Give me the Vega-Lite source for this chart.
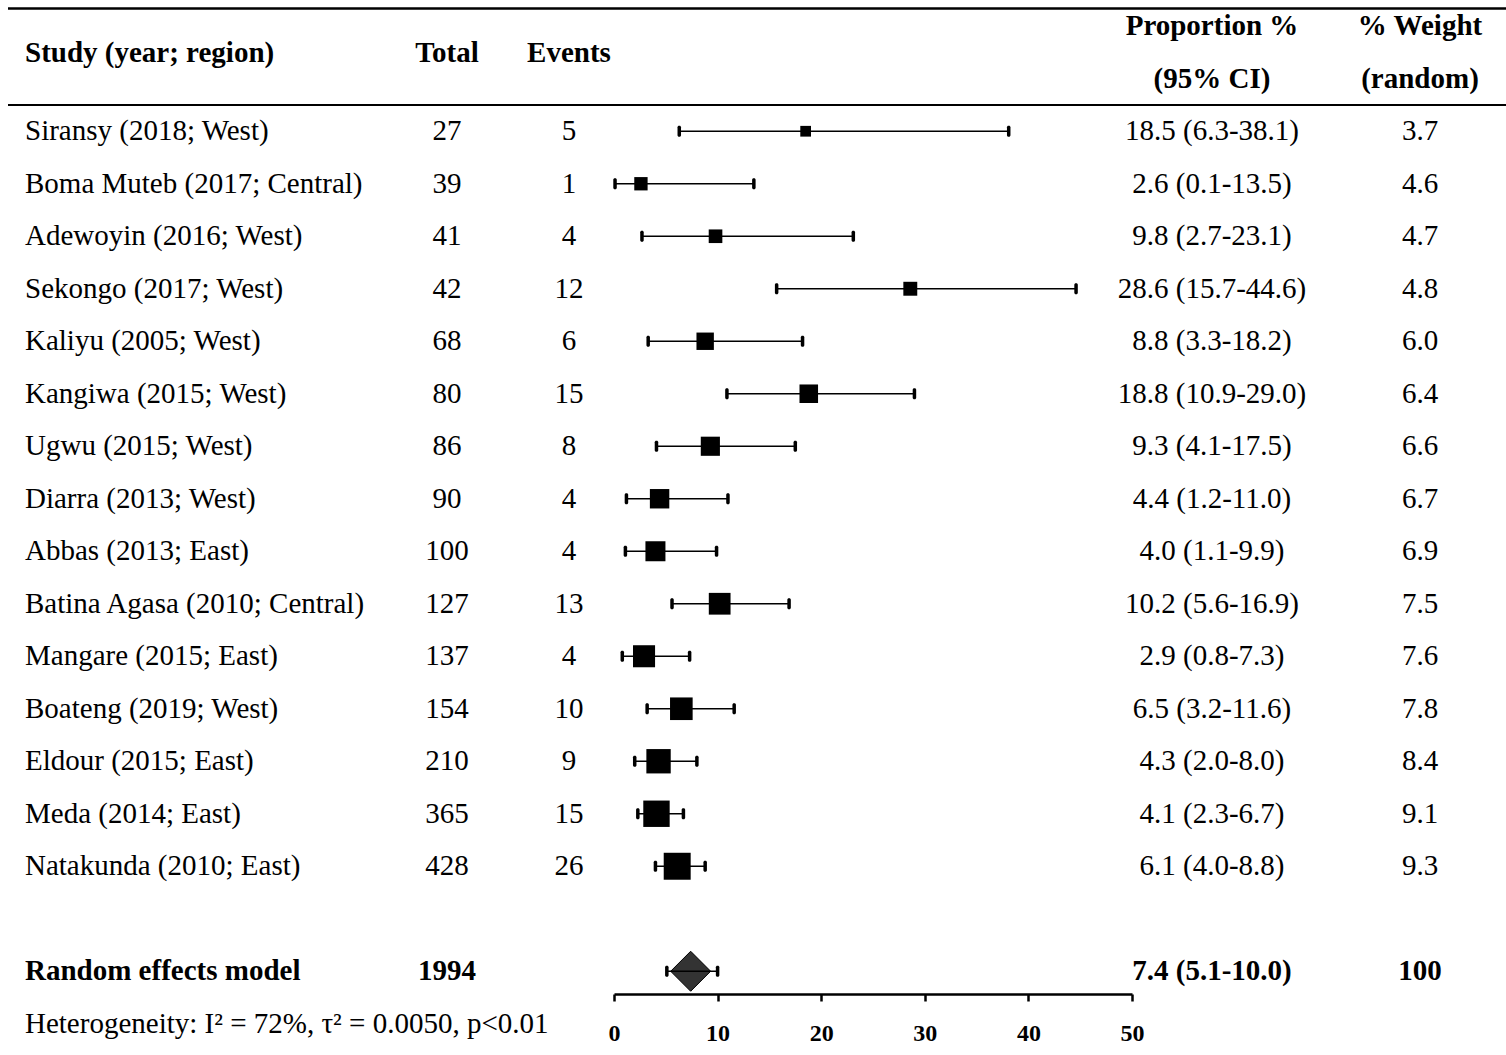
{
  "$schema": "https://vega.github.io/schema/vega-lite/v6.json",
  "background": "white",
  "padding": {"left": 6, "top": 0, "right": 0, "bottom": 0},
  "spacing": 0,
  "bounds": "flush",
  "config": {
    "view": {"stroke": null},
    "text": {"font": "Liberation Serif", "fontSize": 29, "color": "black"},
    "concat": {"spacing": 0}
  },
  "datasets": {
    "rows": [
      {"kind": "study", "study": "Siransy (2018; West)", "total": 27, "events": 5, "prop": 18.5, "lo": 6.3, "hi": 38.1, "ci": "18.5 (6.3-38.1)", "weight": 3.7},
      {"kind": "study", "study": "Boma Muteb (2017; Central)", "total": 39, "events": 1, "prop": 2.6, "lo": 0.1, "hi": 13.5, "ci": "2.6 (0.1-13.5)", "weight": 4.6},
      {"kind": "study", "study": "Adewoyin (2016; West)", "total": 41, "events": 4, "prop": 9.8, "lo": 2.7, "hi": 23.1, "ci": "9.8 (2.7-23.1)", "weight": 4.7},
      {"kind": "study", "study": "Sekongo (2017; West)", "total": 42, "events": 12, "prop": 28.6, "lo": 15.7, "hi": 44.6, "ci": "28.6 (15.7-44.6)", "weight": 4.8},
      {"kind": "study", "study": "Kaliyu (2005; West)", "total": 68, "events": 6, "prop": 8.8, "lo": 3.3, "hi": 18.2, "ci": "8.8 (3.3-18.2)", "weight": 6.0},
      {"kind": "study", "study": "Kangiwa (2015; West)", "total": 80, "events": 15, "prop": 18.8, "lo": 10.9, "hi": 29.0, "ci": "18.8 (10.9-29.0)", "weight": 6.4},
      {"kind": "study", "study": "Ugwu (2015; West)", "total": 86, "events": 8, "prop": 9.3, "lo": 4.1, "hi": 17.5, "ci": "9.3 (4.1-17.5)", "weight": 6.6},
      {"kind": "study", "study": "Diarra (2013; West)", "total": 90, "events": 4, "prop": 4.4, "lo": 1.2, "hi": 11.0, "ci": "4.4 (1.2-11.0)", "weight": 6.7},
      {"kind": "study", "study": "Abbas (2013; East)", "total": 100, "events": 4, "prop": 4.0, "lo": 1.1, "hi": 9.9, "ci": "4.0 (1.1-9.9)", "weight": 6.9},
      {"kind": "study", "study": "Batina Agasa (2010; Central)", "total": 127, "events": 13, "prop": 10.2, "lo": 5.6, "hi": 16.9, "ci": "10.2 (5.6-16.9)", "weight": 7.5},
      {"kind": "study", "study": "Mangare (2015; East)", "total": 137, "events": 4, "prop": 2.9, "lo": 0.8, "hi": 7.3, "ci": "2.9 (0.8-7.3)", "weight": 7.6},
      {"kind": "study", "study": "Boateng (2019; West)", "total": 154, "events": 10, "prop": 6.5, "lo": 3.2, "hi": 11.6, "ci": "6.5 (3.2-11.6)", "weight": 7.8},
      {"kind": "study", "study": "Eldour (2015; East)", "total": 210, "events": 9, "prop": 4.3, "lo": 2.0, "hi": 8.0, "ci": "4.3 (2.0-8.0)", "weight": 8.4},
      {"kind": "study", "study": "Meda (2014; East)", "total": 365, "events": 15, "prop": 4.1, "lo": 2.3, "hi": 6.7, "ci": "4.1 (2.3-6.7)", "weight": 9.1},
      {"kind": "study", "study": "Natakunda (2010; East)", "total": 428, "events": 26, "prop": 6.1, "lo": 4.0, "hi": 8.8, "ci": "6.1 (4.0-8.8)", "weight": 9.3},
      {"kind": "pooled", "study": "Random effects model", "total": 1994, "prop": 7.4, "lo": 5.1, "hi": 10.0, "ci": "7.4 (5.1-10.0)", "weight": 100}
    ],
    "header": [
      {"col": "study", "row": "h1", "t": "Study (year; region)"},
      {"col": "total", "row": "h1", "t": "Total"},
      {"col": "events", "row": "h1", "t": "Events"},
      {"col": "ci", "row": "h1", "t": "Proportion %"},
      {"col": "ci", "row": "h2", "t": "(95% CI)"},
      {"col": "wt", "row": "h1", "t": "% Weight"},
      {"col": "wt", "row": "h2", "t": "(random)"}
    ],
    "note": [
      {"row": "het", "t": "Heterogeneity: I² = 72%, τ² = 0.0050, p<0.01"}
    ]
  },
  "hconcat": [
    {
      "width": 394, "height": 1050,
      "layer": [
        {"data": {"values": [{}]}, "mark": {"type": "rule", "strokeWidth": 2.5, "color": "black"},
         "encoding": {"y": {"datum": "h1", "type": "nominal", "bandPosition": 0.16, "axis": null,
           "scale": {"type": "band", "paddingInner": 0, "paddingOuter": 0, "domain": ["h1", "h2", "Siransy (2018; West)", "Boma Muteb (2017; Central)", "Adewoyin (2016; West)", "Sekongo (2017; West)", "Kaliyu (2005; West)", "Kangiwa (2015; West)", "Ugwu (2015; West)", "Diarra (2013; West)", "Abbas (2013; East)", "Batina Agasa (2010; Central)", "Mangare (2015; East)", "Boateng (2019; West)", "Eldour (2015; East)", "Meda (2014; East)", "Natakunda (2010; East)", "gap", "Random effects model", "het"]}}}},
        {"data": {"values": [{}]}, "mark": {"type": "rule", "strokeWidth": 2, "color": "black"},
         "encoding": {"y": {"datum": "h2", "type": "nominal", "bandPosition": 1, "axis": null}}},
        {"data": {"name": "header"}, "transform": [{"filter": "datum.col == 'study'"}],
         "mark": {"type": "text", "align": "left", "fontWeight": "bold"},
         "encoding": {"x": {"value": 17}, "y": {"field": "row", "type": "nominal", "bandPosition": 1, "axis": null}, "text": {"field": "t"}}},
        {"data": {"name": "rows"}, "transform": [{"filter": "datum.kind == 'study'"}],
         "mark": {"type": "text", "align": "left"},
         "encoding": {"x": {"value": 17}, "y": {"field": "study", "type": "nominal", "axis": null}, "text": {"field": "study"}}},
        {"data": {"name": "rows"}, "transform": [{"filter": "datum.kind == 'pooled'"}],
         "mark": {"type": "text", "align": "left", "fontWeight": "bold"},
         "encoding": {"x": {"value": 17}, "y": {"field": "study", "type": "nominal", "axis": null}, "text": {"field": "study"}}},
        {"data": {"name": "note"},
         "mark": {"type": "text", "align": "left"},
         "encoding": {"x": {"value": 17}, "y": {"field": "row", "type": "nominal", "axis": null}, "text": {"field": "t"}}}
      ]
    },
    {
      "width": 90, "height": 1050,
      "layer": [
        {"data": {"values": [{}]}, "mark": {"type": "rule", "strokeWidth": 2.5, "color": "black"},
         "encoding": {"y": {"datum": "h1", "type": "nominal", "bandPosition": 0.16, "axis": null,
           "scale": {"type": "band", "paddingInner": 0, "paddingOuter": 0, "domain": ["h1", "h2", "Siransy (2018; West)", "Boma Muteb (2017; Central)", "Adewoyin (2016; West)", "Sekongo (2017; West)", "Kaliyu (2005; West)", "Kangiwa (2015; West)", "Ugwu (2015; West)", "Diarra (2013; West)", "Abbas (2013; East)", "Batina Agasa (2010; Central)", "Mangare (2015; East)", "Boateng (2019; West)", "Eldour (2015; East)", "Meda (2014; East)", "Natakunda (2010; East)", "gap", "Random effects model", "het"]}}}},
        {"data": {"values": [{}]}, "mark": {"type": "rule", "strokeWidth": 2, "color": "black"},
         "encoding": {"y": {"datum": "h2", "type": "nominal", "bandPosition": 1, "axis": null}}},
        {"data": {"name": "header"}, "transform": [{"filter": "datum.col == 'total'"}],
         "mark": {"type": "text", "align": "center", "fontWeight": "bold"},
         "encoding": {"y": {"field": "row", "type": "nominal", "bandPosition": 1, "axis": null}, "text": {"field": "t"}}},
        {"data": {"name": "rows"}, "transform": [{"filter": "datum.kind == 'study'"}],
         "mark": {"type": "text", "align": "center"},
         "encoding": {"y": {"field": "study", "type": "nominal", "axis": null}, "text": {"field": "total"}}},
        {"data": {"name": "rows"}, "transform": [{"filter": "datum.kind == 'pooled'"}],
         "mark": {"type": "text", "align": "center", "fontWeight": "bold"},
         "encoding": {"y": {"field": "study", "type": "nominal", "axis": null}, "text": {"field": "total"}}}
      ]
    },
    {
      "width": 122, "height": 1050,
      "layer": [
        {"data": {"values": [{}]}, "mark": {"type": "rule", "strokeWidth": 2.5, "color": "black"},
         "encoding": {"y": {"datum": "h1", "type": "nominal", "bandPosition": 0.16, "axis": null,
           "scale": {"type": "band", "paddingInner": 0, "paddingOuter": 0, "domain": ["h1", "h2", "Siransy (2018; West)", "Boma Muteb (2017; Central)", "Adewoyin (2016; West)", "Sekongo (2017; West)", "Kaliyu (2005; West)", "Kangiwa (2015; West)", "Ugwu (2015; West)", "Diarra (2013; West)", "Abbas (2013; East)", "Batina Agasa (2010; Central)", "Mangare (2015; East)", "Boateng (2019; West)", "Eldour (2015; East)", "Meda (2014; East)", "Natakunda (2010; East)", "gap", "Random effects model", "het"]}}}},
        {"data": {"values": [{}]}, "mark": {"type": "rule", "strokeWidth": 2, "color": "black"},
         "encoding": {"y": {"datum": "h2", "type": "nominal", "bandPosition": 1, "axis": null}}},
        {"data": {"name": "header"}, "transform": [{"filter": "datum.col == 'events'"}],
         "mark": {"type": "text", "align": "center", "fontWeight": "bold", "dx": 16},
         "encoding": {"y": {"field": "row", "type": "nominal", "bandPosition": 1, "axis": null}, "text": {"field": "t"}}},
        {"data": {"name": "rows"}, "transform": [{"filter": "datum.kind == 'study'"}],
         "mark": {"type": "text", "align": "center", "dx": 16},
         "encoding": {"y": {"field": "study", "type": "nominal", "axis": null}, "text": {"field": "events"}}}
      ]
    },
    {
      "width": 518, "height": 1050,
      "layer": [
        {"data": {"values": [{}]}, "mark": {"type": "rule", "strokeWidth": 2.5, "color": "black"},
         "encoding": {"y": {"datum": "h1", "type": "nominal", "bandPosition": 0.16, "axis": null,
           "scale": {"type": "band", "paddingInner": 0, "paddingOuter": 0, "domain": ["h1", "h2", "Siransy (2018; West)", "Boma Muteb (2017; Central)", "Adewoyin (2016; West)", "Sekongo (2017; West)", "Kaliyu (2005; West)", "Kangiwa (2015; West)", "Ugwu (2015; West)", "Diarra (2013; West)", "Abbas (2013; East)", "Batina Agasa (2010; Central)", "Mangare (2015; East)", "Boateng (2019; West)", "Eldour (2015; East)", "Meda (2014; East)", "Natakunda (2010; East)", "gap", "Random effects model", "het"]}}}},
        {"data": {"values": [{}]}, "mark": {"type": "rule", "strokeWidth": 2, "color": "black"},
         "encoding": {"y": {"datum": "h2", "type": "nominal", "bandPosition": 1, "axis": null}}},
        {"data": {"name": "rows"}, "transform": [{"filter": "datum.kind == 'pooled'"}],
         "mark": {"type": "point", "shape": "diamond", "filled": true, "fill": "#333333", "stroke": "black", "strokeWidth": 1, "opacity": 1, "size": 1600},
         "encoding": {
           "x": {"field": "prop", "type": "quantitative",
             "scale": {"domain": [0, 50], "nice": false, "zero": false},
             "axis": {"orient": "bottom", "offset": -56, "values": [0, 10, 20, 30, 40, 50], "title": null, "grid": false,
               "domain": true, "domainColor": "black", "domainWidth": 2.5,
               "ticks": true, "tickColor": "black", "tickWidth": 2.5, "tickSize": 7,
               "labelFlush": false, "labelOverlap": false,
               "labelFont": "Liberation Serif", "labelFontWeight": "bold", "labelFontSize": 24, "labelColor": "black", "labelPadding": 20}},
           "y": {"field": "study", "type": "nominal", "axis": null}}},
        {"data": {"name": "rows"},
         "mark": {"type": "rule", "strokeWidth": 1.5, "color": "black"},
         "encoding": {"x": {"field": "lo", "type": "quantitative"}, "x2": {"field": "hi"}, "y": {"field": "study", "type": "nominal", "axis": null}}},
        {"data": {"name": "rows"},
         "mark": {"type": "tick", "thickness": 3.5, "size": 11, "color": "black", "opacity": 1, "cornerRadius": 1.5},
         "encoding": {"x": {"field": "lo", "type": "quantitative"}, "y": {"field": "study", "type": "nominal", "axis": null}}},
        {"data": {"name": "rows"},
         "mark": {"type": "tick", "thickness": 3.5, "size": 11, "color": "black", "opacity": 1, "cornerRadius": 1.5},
         "encoding": {"x": {"field": "hi", "type": "quantitative"}, "y": {"field": "study", "type": "nominal", "axis": null}}},
        {"data": {"name": "rows"}, "transform": [{"filter": "datum.kind == 'study'"}],
         "mark": {"type": "point", "shape": "square", "filled": true, "color": "black", "opacity": 1},
         "encoding": {
           "x": {"field": "prop", "type": "quantitative"},
           "y": {"field": "study", "type": "nominal", "axis": null},
           "size": {"field": "weight", "type": "quantitative", "scale": {"type": "pow", "exponent": 2, "domain": [0, 10], "range": [0, 841]}, "legend": null}}}
      ]
    },
    {
      "width": 160, "height": 1050,
      "layer": [
        {"data": {"values": [{}]}, "mark": {"type": "rule", "strokeWidth": 2.5, "color": "black"},
         "encoding": {"y": {"datum": "h1", "type": "nominal", "bandPosition": 0.16, "axis": null,
           "scale": {"type": "band", "paddingInner": 0, "paddingOuter": 0, "domain": ["h1", "h2", "Siransy (2018; West)", "Boma Muteb (2017; Central)", "Adewoyin (2016; West)", "Sekongo (2017; West)", "Kaliyu (2005; West)", "Kangiwa (2015; West)", "Ugwu (2015; West)", "Diarra (2013; West)", "Abbas (2013; East)", "Batina Agasa (2010; Central)", "Mangare (2015; East)", "Boateng (2019; West)", "Eldour (2015; East)", "Meda (2014; East)", "Natakunda (2010; East)", "gap", "Random effects model", "het"]}}}},
        {"data": {"values": [{}]}, "mark": {"type": "rule", "strokeWidth": 2, "color": "black"},
         "encoding": {"y": {"datum": "h2", "type": "nominal", "bandPosition": 1, "axis": null}}},
        {"data": {"name": "header"}, "transform": [{"filter": "datum.col == 'ci'"}],
         "mark": {"type": "text", "align": "center", "fontWeight": "bold"},
         "encoding": {"y": {"field": "row", "type": "nominal", "axis": null}, "text": {"field": "t"}}},
        {"data": {"name": "rows"}, "transform": [{"filter": "datum.kind == 'study'"}],
         "mark": {"type": "text", "align": "center"},
         "encoding": {"y": {"field": "study", "type": "nominal", "axis": null}, "text": {"field": "ci"}}},
        {"data": {"name": "rows"}, "transform": [{"filter": "datum.kind == 'pooled'"}],
         "mark": {"type": "text", "align": "center", "fontWeight": "bold"},
         "encoding": {"y": {"field": "study", "type": "nominal", "axis": null}, "text": {"field": "ci"}}}
      ]
    },
    {
      "width": 216, "height": 1050,
      "layer": [
        {"data": {"values": [{}]}, "mark": {"type": "rule", "strokeWidth": 2.5, "color": "black"},
         "encoding": {"y": {"datum": "h1", "type": "nominal", "bandPosition": 0.16, "axis": null,
           "scale": {"type": "band", "paddingInner": 0, "paddingOuter": 0, "domain": ["h1", "h2", "Siransy (2018; West)", "Boma Muteb (2017; Central)", "Adewoyin (2016; West)", "Sekongo (2017; West)", "Kaliyu (2005; West)", "Kangiwa (2015; West)", "Ugwu (2015; West)", "Diarra (2013; West)", "Abbas (2013; East)", "Batina Agasa (2010; Central)", "Mangare (2015; East)", "Boateng (2019; West)", "Eldour (2015; East)", "Meda (2014; East)", "Natakunda (2010; East)", "gap", "Random effects model", "het"]}}}},
        {"data": {"values": [{}]}, "mark": {"type": "rule", "strokeWidth": 2, "color": "black"},
         "encoding": {"y": {"datum": "h2", "type": "nominal", "bandPosition": 1, "axis": null}}},
        {"data": {"name": "header"}, "transform": [{"filter": "datum.col == 'wt'"}],
         "mark": {"type": "text", "align": "center", "fontWeight": "bold", "dx": 20},
         "encoding": {"y": {"field": "row", "type": "nominal", "axis": null}, "text": {"field": "t"}}},
        {"data": {"name": "rows"}, "transform": [{"filter": "datum.kind == 'study'"}],
         "mark": {"type": "text", "align": "center", "dx": 20},
         "encoding": {"y": {"field": "study", "type": "nominal", "axis": null}, "text": {"field": "weight", "format": ".1f"}}},
        {"data": {"name": "rows"}, "transform": [{"filter": "datum.kind == 'pooled'"}],
         "mark": {"type": "text", "align": "center", "fontWeight": "bold", "dx": 20},
         "encoding": {"y": {"field": "study", "type": "nominal", "axis": null}, "text": {"field": "weight", "format": "d"}}}
      ]
    }
  ]
}
